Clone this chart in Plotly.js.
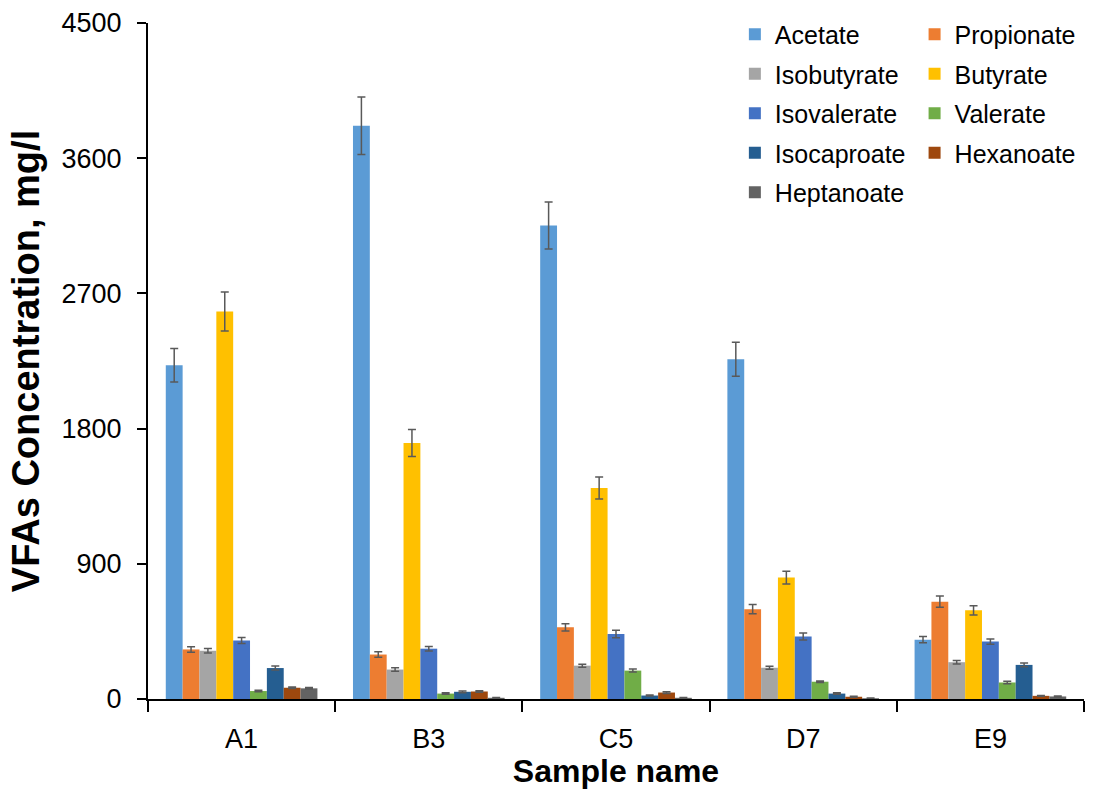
<!DOCTYPE html>
<html>
<head>
<meta charset="utf-8">
<script src="https://cdn.plot.ly/plotly-3.0.1.min.js"></script>
<style>html,body{margin:0;padding:0;background:#fff;}#chart{width:1096px;height:789px;}</style>
</head>
<body>
<div id="chart"></div>
<script>
const samples = ["A1", "B3", "C5", "D7", "E9"];
const seriesNames = ["Acetate", "Propionate", "Isobutyrate", "Butyrate", "Isovalerate", "Valerate", "Isocaproate", "Hexanoate", "Heptanoate"];
const acetate      = [2222, 3816, 3152, 2262, 395];
const propionate   = [330, 296, 477, 598, 648];
const isobutyrate  = [321, 196, 222, 208, 245];
const butyrate     = [2580, 1704, 1405, 808, 590];
const isovalerate  = [390, 335, 433, 416, 382];
const valerate     = [53, 36, 189, 115, 110];
const isocaproate  = [206, 48, 23, 36, 227];
const hexanoate    = [75, 50, 43, 15, 21];
const heptanoate   = [71, 8, 8, 5, 17];
const acetateErr     = [111, 191, 156, 113, 21];
const propionateErr  = [18, 18, 24, 31, 37];
const isobutyrateErr = [15, 12, 10, 10, 12];
const butyrateErr    = [130, 90, 73, 42, 30];
const isovalerateErr = [20, 15, 25, 23, 18];
const valerateErr    = [5, 5, 10, 5, 8];
const isocaproateErr = [13, 6, 3, 5, 12];
const hexanoateErr   = [5, 5, 6, 3, 3];
const heptanoateErr  = [5, 2, 2, 2, 3];
const yTicks = [0, 900, 1800, 2700, 3600, 4500];

const values = [acetate, propionate, isobutyrate, butyrate, isovalerate, valerate, isocaproate, hexanoate, heptanoate];
const errors = [acetateErr, propionateErr, isobutyrateErr, butyrateErr, isovalerateErr, valerateErr, isocaproateErr, hexanoateErr, heptanoateErr];
const colors = ["#5B9BD5", "#ED7D31", "#A5A5A5", "#FFC000", "#4472C4", "#70AD47", "#255E91", "#9E480E", "#636363"];

const FONT = "Liberation Sans, Arial, sans-serif";
const traces = seriesNames.map((name, i) => ({
  type: "bar",
  name: name,
  x: samples,
  y: values[i],
  marker: {color: colors[i]},
  error_y: {type: "data", array: errors[i], visible: true, color: "#595959", thickness: 1.5, width: 4},
  legend: (i % 2 === 0) ? "legend" : "legend2",
  legendgroup: "g" + i,
  hoverinfo: "x+y+name"
}));

const legendCommon = {
  orientation: "v", yanchor: "top", xanchor: "left", y: 1.017,
  font: {family: FONT, size: 25, color: "#000"},
  bgcolor: "rgba(0,0,0,0)", tracegroupgap: 4, traceorder: "grouped"
};

const layout = {
  width: 1096, height: 789,
  margin: {l: 148, r: 12, t: 21, b: 90},
  paper_bgcolor: "#fff", plot_bgcolor: "#fff",
  barmode: "group", bargap: 0.19, bargroupgap: 0,
  showlegend: true,
  legend: Object.assign({}, legendCommon, {x: 0.627}),
  legend2: Object.assign({}, legendCommon, {x: 0.819}),
  font: {family: FONT, color: "#000"},
  xaxis: {
    type: "category", automargin: false,
    showline: true, linecolor: "#000", linewidth: 2,
    ticks: "outside", tickson: "boundaries", ticklen: 11, tickwidth: 2, tickcolor: "#000",
    tickfont: {family: FONT, size: 27, color: "#000"},
    ticklabelstandoff: 15,
    showgrid: false, zeroline: false,
    title: {text: "Sample name", font: {family: FONT, size: 32, color: "#000", weight: "bold"}, standoff: 6}
  },
  yaxis: {
    range: [0, 4500], tickvals: yTicks, ticktext: yTicks.map(String), automargin: false,
    showline: true, linecolor: "#000", linewidth: 2,
    ticks: "outside", ticklen: 9, tickwidth: 2, tickcolor: "#000",
    tickfont: {family: FONT, size: 27, color: "#000"},
    ticklabelstandoff: 10,
    showgrid: false, zeroline: false,
    title: {text: "VFAs Concentration, mg/l", font: {family: FONT, size: 38, color: "#000", weight: "bold"}, standoff: 10}
  }
};

Plotly.newPlot("chart", traces, layout, {displayModeBar: false, staticPlot: true});
</script>
</body>
</html>
